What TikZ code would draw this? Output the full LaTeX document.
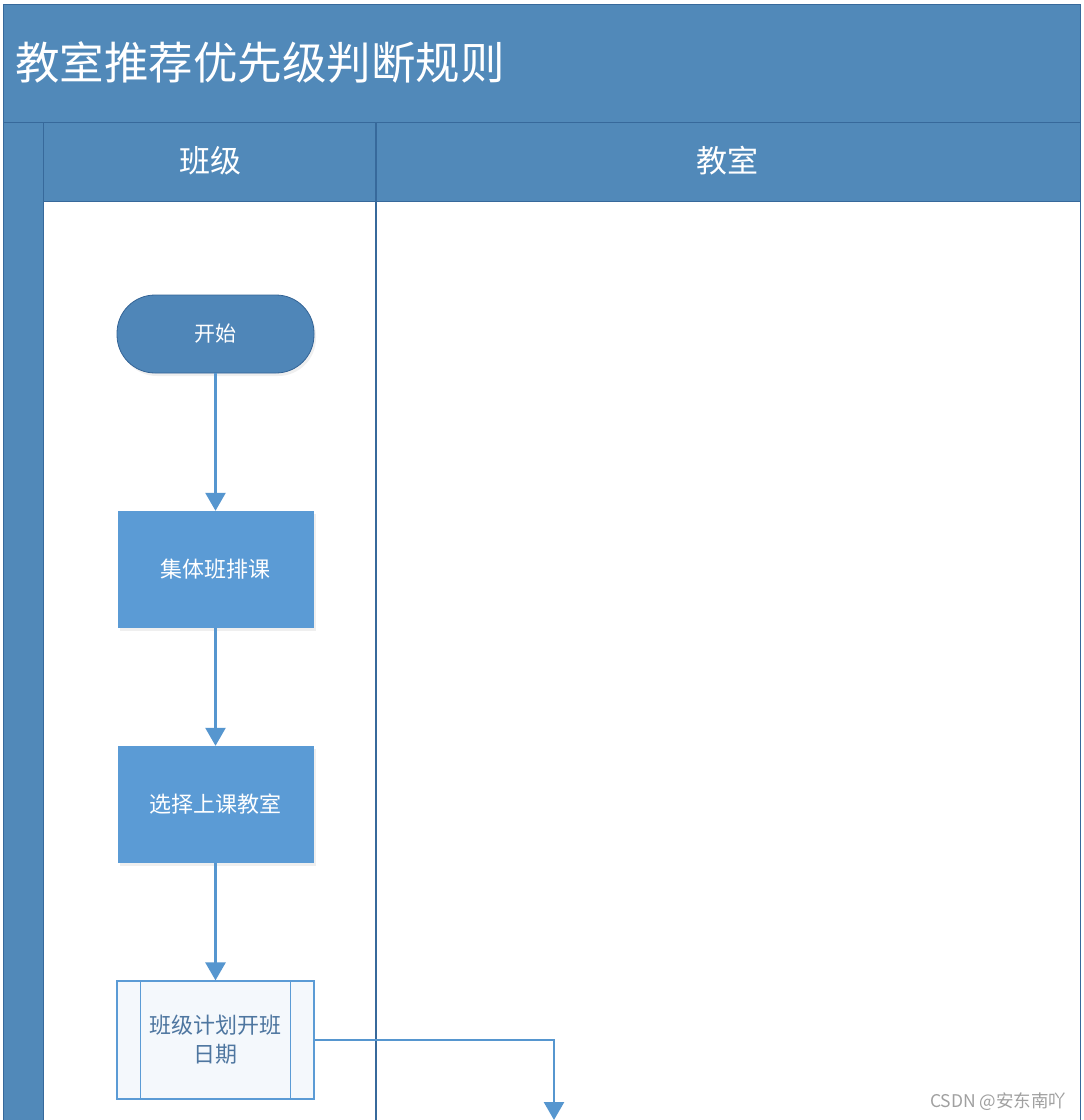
\documentclass[tikz,border=0pt]{standalone}
\usepackage{fontspec}
\setmainfont{Noto Sans CJK SC}
\usetikzlibrary{arrows.meta,shadows}
\definecolor{band}{RGB}{81,137,185}
\definecolor{bandline}{RGB}{55,105,155}
\definecolor{boxblue}{RGB}{91,155,213}
\definecolor{startfill}{RGB}{79,134,184}
\definecolor{startline}{RGB}{52,100,150}
\definecolor{arrowblue}{RGB}{86,150,207}
\definecolor{subtext}{RGB}{78,118,160}
\definecolor{subfill}{RGB}{244,248,252}
\definecolor{wmark}{RGB}{160,160,160}
\tikzset{
  softshadow/.style={drop shadow={opacity=0.12,shadow xshift=2pt,shadow yshift=-3pt}},
  terminal/.style={draw=startline,fill=startfill,line width=0.8pt,rounded corners=38pt,
    minimum width=197pt,minimum height=78pt,text=white,font=\fontsize{21}{25}\selectfont,softshadow},
  procbox/.style={fill=boxblue,minimum width=196pt,minimum height=117pt,
    text=white,font=\fontsize{22}{26}\selectfont,softshadow},
  subproc/.style={draw=boxblue,fill=subfill,line width=1.2pt,minimum width=197pt,minimum height=118pt,
    text=subtext,align=center,font=\fontsize{22}{29}\selectfont},
  flow/.style={draw=arrowblue,line width=2.6pt,-{Triangle[width=20pt,length=18pt]}},
  laneline/.style={draw=bandline,line width=1pt}
}
\begin{document}
\begin{tikzpicture}[x=1pt,y=-1pt]
\useasboundingbox (0,0) rectangle (1084,1120);
\clip (0,0) rectangle (1084,1120);
\fill[white] (0,0) rectangle (1084,1120);
% frame and bands
\fill[band] (3,4) rectangle (1080,1130);
\fill[white] (43,201) rectangle (1080,1130);
\draw[laneline] (3,4) rectangle (1080,1130);
\draw[laneline] (3,122) -- (1080,122);
\draw[laneline] (43,122) -- (43,1130);
\draw[laneline] (43,201) -- (1080,201);
\draw[laneline,line width=1.4pt] (376,122) -- (376,1130);
% texts
\node[anchor=west,text=white,font=\fontsize{44.5}{52}\selectfont,inner sep=0pt] (title) at (15,62) {教室推荐优先级判断规则};
\node[text=white,font=\fontsize{31}{36}\selectfont] (laneA) at (210,161) {班级};
\node[text=white,font=\fontsize{31}{36}\selectfont] (laneB) at (727,161) {教室};
% flow nodes
\node[terminal] (start) at (215.5,334) {开始};
\node[procbox] (p1) at (215.5,569.5) {集体班排课};
\node[procbox] (p2) at (215.5,804.5) {选择上课教室};
\node[subproc] (p3) at (215.5,1040) {班级计划开班\\日期};
\draw[draw=boxblue,line width=1.2pt] ([xshift=24pt]p3.north west) -- ([xshift=24pt]p3.south west);
\draw[draw=boxblue,line width=1.2pt] ([xshift=-24pt]p3.north east) -- ([xshift=-24pt]p3.south east);
\coordinate (out) at (554,1120);
% connectors
\draw[flow] (start) -- (p1);
\draw[flow] (p1) -- (p2);
\draw[flow] (p2) -- (p3);
\draw[flow] (p3.east) -| (out);
% watermark
\node[anchor=east,text=wmark,font=\fontsize{17.5}{20}\selectfont] (wm) at (1070,1102) {CSDN @安东南吖};
\end{tikzpicture}
\end{document}
